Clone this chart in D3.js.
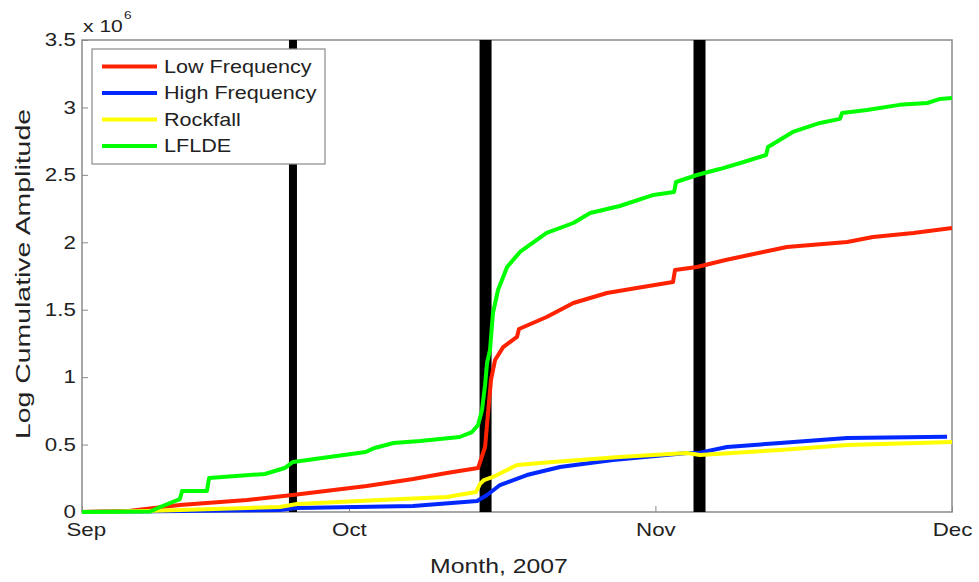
<!DOCTYPE html>
<html>
<head>
<meta charset="utf-8">
<script src="https://cdn.jsdelivr.net/npm/d3@7"></script>
<style>
  body { margin: 0; background: #fff; }
  svg { display: block; font-family: Arial, "Liberation Sans", Helvetica, sans-serif; }
</style>
</head>
<body>
<svg width="979" height="582"></svg>
<script>
// Each point is [day counted from 1 Sep 2007, value in units of 10^6]
const lowFrequency = [
  [3.0, 0], [7.9, 0.01], [12.9, 0.052], [19.7, 0.089], [24.3, 0.126], [31.8, 0.193],
  [36.5, 0.245], [39.9, 0.289], [43.06, 0.326], [43.77, 0.482], [44.07, 0.734],
  [44.37, 0.979], [44.78, 1.127], [45.6, 1.223], [47.0, 1.298], [47.2, 1.357],
  [50.0, 1.446], [52.7, 1.55], [56.1, 1.624], [59.1, 1.661], [62.78, 1.705],
  [62.98, 1.794], [65.2, 1.817], [68.1, 1.869], [71.9, 1.928], [74.3, 1.965],
  [80.4, 2.002], [83.0, 2.039], [87.1, 2.069], [91.0, 2.106]
];
const highFrequency = [
  [3.0, 0], [23.0, 0.015], [24.75, 0.03], [36.5, 0.044], [42.96, 0.082],
  [43.97, 0.126], [45.28, 0.2], [48.0, 0.274], [51.35, 0.334], [56.7, 0.386],
  [64.2, 0.437], [65.5, 0.44], [68.24, 0.482], [73.6, 0.512], [80.4, 0.549],
  [90.5, 0.558]
];
const rockfall = [
  [3.0, 0], [9.6, 0.007], [23.0, 0.037], [24.75, 0.059], [33.1, 0.089],
  [39.9, 0.111], [42.85, 0.148], [43.26, 0.208], [43.66, 0.237], [44.57, 0.26],
  [47.0, 0.349], [50.6, 0.371], [57.4, 0.408], [64.2, 0.437], [65.5, 0.423],
  [73.6, 0.46], [80.4, 0.497], [91.0, 0.519]
];
const lfldE = [
  [3.0, 0], [9.9, 0.004], [10.9, 0.037], [12.9, 0.096], [13.12, 0.156],
  [15.64, 0.156], [15.85, 0.252], [21.5, 0.282], [23.5, 0.326], [24.34, 0.371],
  [31.7, 0.445], [32.6, 0.475], [34.5, 0.512], [37.2, 0.526], [41.2, 0.556],
  [42.45, 0.593], [43.06, 0.645], [43.46, 0.756], [43.77, 0.942], [43.97, 1.105],
  [44.27, 1.201], [44.57, 1.476], [45.08, 1.646], [46.0, 1.817], [47.3, 1.928],
  [50.0, 2.069], [52.7, 2.143], [54.4, 2.217], [57.4, 2.269], [60.8, 2.351],
  [62.89, 2.373], [63.09, 2.447], [65.2, 2.499], [67.5, 2.543], [69.6, 2.588],
  [72.19, 2.647], [72.39, 2.707], [74.9, 2.818], [77.65, 2.885], [79.67, 2.915],
  [79.88, 2.959], [82.4, 2.981], [85.7, 3.019], [88.5, 3.033], [89.8, 3.063],
  [91.0, 3.07]
];

const seriesNames = ['Low Frequency', 'High Frequency', 'Rockfall', 'LFLDE'];
const seriesData = [lowFrequency, highFrequency, rockfall, lfldE];
const seriesColors = ['#ff2200', '#0028ff', '#ffff00', '#00ff00'];

// days (from 1 Sep 2007) of the black event bars
const eventDays = [24.34, 43.82, 65.46];

const yTicks = [0, 0.5, 1, 1.5, 2, 2.5, 3, 3.5];
const monthTicks = ['2007-09-04', '2007-10-01', '2007-11-01', '2007-12-01'];

const svg = d3.select('svg');
const plotLeft = 82, plotRight = 952, plotTop = 40, plotBottom = 512;
const axisGrey = '#8a8a8a';
const stretch = 1.24; // glyphs in the reference are drawn wider than they are tall

const start = Date.UTC(2007, 8, 1);
const toDate = (d) => new Date(start + d * 864e5);
const monthDates = monthTicks.map((s) => new Date(s + 'T00:00:00Z'));

const x = d3.scaleUtc()
  .domain([monthDates[0], monthDates[monthDates.length - 1]])
  .range([plotLeft, plotRight]);
const y = d3.scaleLinear().domain([0, 3.5]).range([plotBottom, plotTop]);

// axes box
svg.append('rect')
  .attr('x', plotLeft).attr('y', plotTop)
  .attr('width', plotRight - plotLeft).attr('height', plotBottom - plotTop)
  .attr('fill', '#fff')
  .attr('stroke', axisGrey)
  .attr('stroke-width', 1.5);

const yAxis = svg.append('g')
  .attr('transform', `translate(${plotLeft},0)`)
  .call(d3.axisLeft(y).tickValues(yTicks).tickSize(-6).tickPadding(5).tickFormat(d3.format('~g')));

const xAxis = svg.append('g')
  .attr('transform', `translate(0,${plotBottom})`)
  .call(d3.axisBottom(x).tickValues(monthDates).tickSize(-6).tickPadding(11).tickFormat(d3.utcFormat('%b')));

[yAxis, xAxis].forEach((ax) => {
  ax.select('.domain').remove();
  ax.selectAll('.tick line').attr('stroke', axisGrey);
  ax.selectAll('.tick text')
    .attr('fill', '#222')
    .attr('font-size', 18)
    .attr('font-family', 'Arial, "Liberation Sans", sans-serif')
    .attr('transform', `scale(${stretch},1)`);
});
xAxis.selectAll('.tick').filter((d, i) => i === 0).select('text').attr('x', 3);

// black event bars
const barWidths = [8, 12, 12];
svg.append('g')
  .selectAll('line')
  .data(eventDays)
  .join('line')
  .attr('x1', (d) => x(toDate(d)))
  .attr('x2', (d) => x(toDate(d)))
  .attr('y1', plotTop)
  .attr('y2', plotBottom)
  .attr('stroke', '#000')
  .attr('stroke-width', (d, i) => barWidths[i]);

// series lines
const line = d3.line()
  .x((d) => x(toDate(d[0])))
  .y((d) => y(d[1]));

svg.append('g')
  .selectAll('path')
  .data(seriesData)
  .join('path')
  .attr('d', line)
  .attr('fill', 'none')
  .attr('stroke', (d, i) => seriesColors[i])
  .attr('stroke-width', 4)
  .attr('stroke-linejoin', 'round');

// exponent label
svg.append('text')
  .attr('transform', `translate(83,32) scale(${stretch},1)`)
  .attr('font-size', 17)
  .attr('fill', '#222')
  .text('x 10');
svg.append('text')
  .attr('transform', `translate(124,19) scale(${stretch},1)`)
  .attr('font-size', 11)
  .attr('fill', '#222')
  .text('6');

// axis titles
svg.append('text')
  .attr('transform', `translate(499,573) scale(${stretch},1)`)
  .attr('text-anchor', 'middle')
  .attr('font-size', 20)
  .attr('fill', '#222')
  .text('Month, 2007');

svg.append('text')
  .attr('transform', 'translate(30,274) rotate(-90)')
  .attr('text-anchor', 'middle')
  .attr('font-size', 21)
  .attr('textLength', 330)
  .attr('lengthAdjust', 'spacingAndGlyphs')
  .attr('fill', '#222')
  .text('Log Cumulative Amplitude');

// legend
const legend = svg.append('g');
legend.append('rect')
  .attr('x', 92).attr('y', 49)
  .attr('width', 233).attr('height', 115)
  .attr('fill', '#fff')
  .attr('stroke', axisGrey)
  .attr('stroke-width', 1.2);

const rows = legend.selectAll('g.row')
  .data(seriesNames)
  .join('g')
  .attr('class', 'row')
  .attr('transform', (d, i) => `translate(0,${66.5 + i * 26.5})`);

rows.append('line')
  .attr('x1', 102).attr('x2', 157)
  .attr('stroke', (d, i) => seriesColors[i])
  .attr('stroke-width', 4);

rows.append('text')
  .attr('transform', `translate(164,0) scale(1.2,1)`)
  .attr('dy', '0.36em')
  .attr('font-size', 18)
  .attr('fill', '#222')
  .text((d) => d);
</script>
</body>
</html>
